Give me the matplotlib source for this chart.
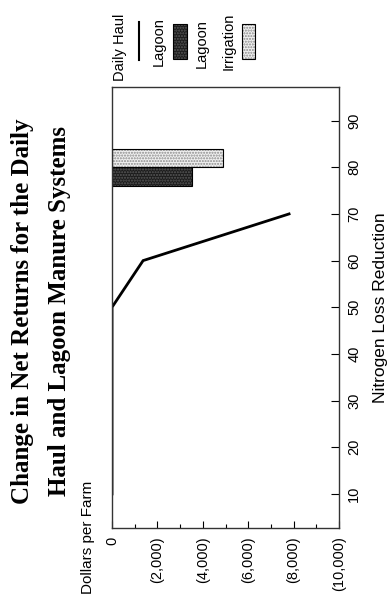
import matplotlib
matplotlib.use("Agg")
import matplotlib.pyplot as plt
from matplotlib.lines import Line2D
from matplotlib.patches import Rectangle
from matplotlib.ticker import FuncFormatter, MultipleLocator

# Nitrogen loss reduction (%) and change in net returns ($ per farm)
haul_reduction = [10, 20, 30, 40, 50, 60, 70]
haul_returns = [0, 0, 0, 0, 0, -1370, -7800]

lagoon_reduction = [78]
lagoon_returns = [-3540]
irrigation_reduction = [82]
irrigation_returns = [-4870]

dollar_ticks = [0, -2000, -4000, -6000, -8000, -10000]
reduction_ticks = [10, 20, 30, 40, 50, 60, 70, 80, 90]

title_lines = ["Change in Net Returns for the Daily",
               "Haul and Lagoon Manure Systems"]

plt.rcParams["font.family"] = ["Liberation Sans", "DejaVu Sans"]

W, H = 390, 605
fig = plt.figure(figsize=(W / 100, H / 100), dpi=100)
ax = fig.add_axes([112 / W, 1 - 528 / H, (339 - 112) / W, (528 - 87) / H])

# chart is laid out sideways: dollars run along x, reduction along y
ax.plot(haul_returns, haul_reduction, color="black", lw=2, solid_joinstyle="miter")

# stippled bars: hatch layer first, then a plain outline
ax.barh(lagoon_reduction, lagoon_returns, height=4, color="#1c1c1c",
        edgecolor="#5a5a5a", hatch="......", lw=0)
ax.barh(lagoon_reduction, lagoon_returns, height=4, fill=False,
        edgecolor="black", lw=0.8)
ax.barh(irrigation_reduction, irrigation_returns, height=4, color="#f0f0f0",
        edgecolor="#8a8a8a", hatch="......", lw=0)
ax.barh(irrigation_reduction, irrigation_returns, height=4, fill=False,
        edgecolor="black", lw=0.8)

ax.set_xlim(0, -10000)
ax.set_ylim(2.7, 97.2)

ax.set_xticks(dollar_ticks)
ax.xaxis.set_minor_locator(MultipleLocator(1000))
ax.xaxis.set_major_formatter(FuncFormatter(
    lambda v, p: "0" if v == 0 else "({:,.0f})".format(abs(v))))
ax.tick_params(axis="x", which="major", direction="in", length=5, width=0.8,
               labelrotation=90, labelsize=10.5, pad=6)
ax.tick_params(axis="x", which="minor", direction="in", length=3, width=0.8)

ax.set_yticks(reduction_ticks)
ax.yaxis.tick_right()
ax.tick_params(axis="y", direction="in", length=6, width=0.8,
               labelrotation=90, labelsize=10.5, pad=6)
for lbl in ax.get_yticklabels():
    lbl.set_verticalalignment("center")

for s in ax.spines.values():
    s.set_linewidth(1.0)
    s.set_color("#333333")

# axis titles
fig.text(381 / W, 1 - 308 / H, "Nitrogen Loss Reduction", rotation=90,
         ha="center", va="center", fontsize=12.5)
fig.text(88 / W, 1 - 537 / H, "Dollars per Farm", rotation=90,
         ha="center", va="center", fontsize=11)

# title, two rotated lines
for x, txt in zip([23, 60], title_lines):
    fig.text(x / W, 1 - 311 / H, txt, rotation=90, ha="center", va="center",
             fontsize=18, fontweight="bold", family="Liberation Serif")

# legend, drawn sideways along the top
fig.text(120 / W, 1 - 47 / H, "Daily Haul", rotation=90, ha="center",
         va="center", fontsize=10.5)
fig.add_artist(Line2D([139 / W, 139 / W], [1 - 22 / H, 1 - 60 / H],
                      color="black", lw=1.5, transform=fig.transFigure))
fig.text(159 / W, 1 - 42 / H, "Lagoon", rotation=90, ha="center",
         va="center", fontsize=10.5)
fig.add_artist(Rectangle((173 / W, 1 - 59 / H), 14 / W, 35 / H,
                         facecolor="#1c1c1c", edgecolor="#5a5a5a",
                         hatch="......", lw=0, transform=fig.transFigure))
fig.add_artist(Rectangle((173 / W, 1 - 59 / H), 14 / W, 35 / H, fill=False,
                         edgecolor="black", lw=0.8, transform=fig.transFigure))
fig.text(202 / W, 1 - 44 / H, "Lagoon", rotation=90, ha="center",
         va="center", fontsize=10.5)
fig.text(229 / W, 1 - 41 / H, "Irrigation", rotation=90, ha="center",
         va="center", fontsize=10.5)
fig.add_artist(Rectangle((242 / W, 1 - 59 / H), 13 / W, 35 / H,
                         facecolor="#f0f0f0", edgecolor="#8a8a8a",
                         hatch="......", lw=0, transform=fig.transFigure))
fig.add_artist(Rectangle((242 / W, 1 - 59 / H), 13 / W, 35 / H, fill=False,
                         edgecolor="black", lw=0.8, transform=fig.transFigure))

fig.savefig("out.png", dpi=100)
